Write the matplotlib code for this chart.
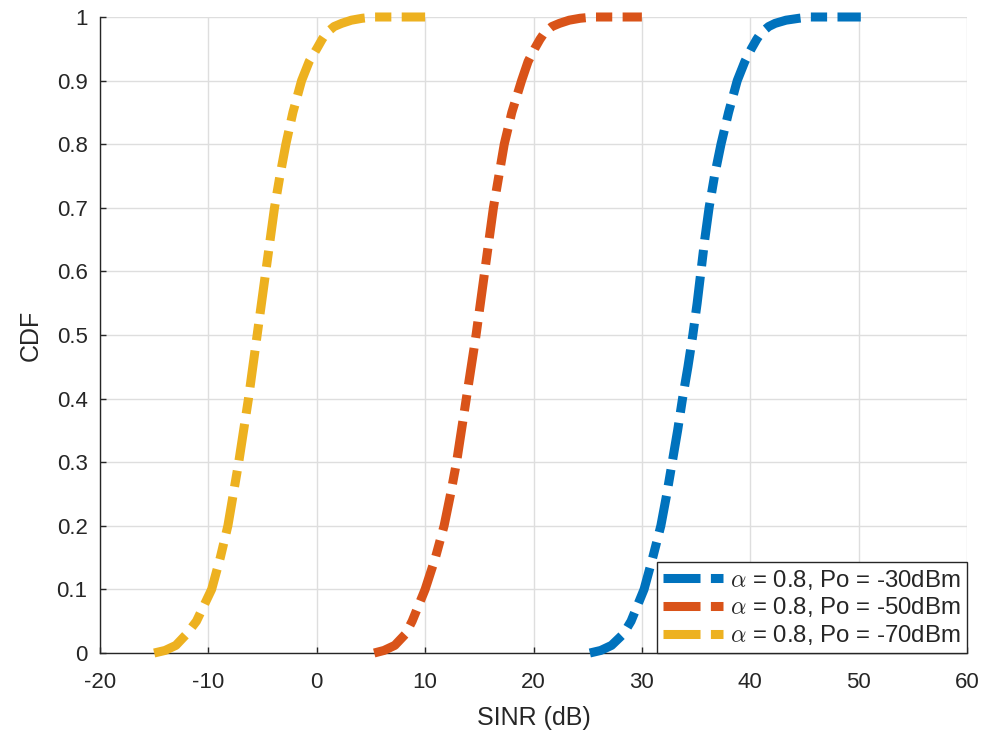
import matplotlib

matplotlib.use("Agg")

import matplotlib.pyplot as plt

# CDF levels (shared by the three curves)
CDF_LEVELS = [0.0, 0.004, 0.012, 0.03, 0.05, 0.075, 0.1, 0.15, 0.2, 0.25, 0.3,
              0.35, 0.4, 0.45, 0.5, 0.55, 0.6, 0.65, 0.7, 0.75, 0.8, 0.85,
              0.9, 0.93, 0.95, 0.965, 0.975, 0.985, 0.99, 0.995, 0.998, 1.0, 1.0]

# SINR (dB) where each curve reaches the levels above
SINR_30DBM = [25.2, 26.2, 27.2, 28.3, 29.0, 29.6, 30.2, 31.0, 31.75, 32.3, 32.8,
              33.3, 33.75, 34.25, 34.7, 35.1, 35.45, 35.8, 36.2, 36.7, 37.3, 38.0,
              38.8, 39.5, 40.1, 40.6, 41.0, 41.7, 42.3, 43.3, 44.5, 45.5, 50.2]
SINR_50DBM = [5.3, 6.2, 7.2, 8.2, 8.8, 9.4, 10.0, 10.95, 11.75, 12.35, 12.9,
              13.35, 13.8, 14.25, 14.7, 15.1, 15.5, 15.9, 16.3, 16.8, 17.3, 18.0,
              18.9, 19.5, 20.1, 20.6, 21.0, 21.7, 22.4, 23.3, 24.3, 25.5, 30.0]
SINR_70DBM = [-15.0, -14.0, -13.0, -12.0, -11.1, -10.4, -9.7, -8.9, -8.2, -7.7, -7.2,
              -6.75, -6.3, -5.9, -5.5, -5.1, -4.7, -4.3, -3.9, -3.4, -2.85, -2.2,
              -1.4, -0.7, 0.0, 0.5, 0.9, 1.6, 2.3, 3.2, 4.2, 5.3, 10.0]

LABELS = [
    r"$\alpha$ = 0.8, Po = -30dBm",
    r"$\alpha$ = 0.8, Po = -50dBm",
    r"$\alpha$ = 0.8, Po = -70dBm",
]
COLORS = ["#0072BD", "#D95319", "#EDB120"]

X_TICKS = [-20, -10, 0, 10, 20, 30, 40, 50, 60]
Y_TICKS = [0, 0.1, 0.2, 0.3, 0.4, 0.5, 0.6, 0.7, 0.8, 0.9, 1]
Y_TICK_LABELS = ["0", "0.1", "0.2", "0.3", "0.4", "0.5", "0.6", "0.7", "0.8", "0.9", "1"]

TEXT_COLOR = "#262626"

plt.rcParams.update(
    {
        "font.family": ["Liberation Sans", "DejaVu Sans"],
        "mathtext.fontset": "cm",
        "axes.unicode_minus": False,
    }
)

W_PX, H_PX = 986, 738
fig = plt.figure(figsize=(W_PX / 100, H_PX / 100), dpi=100, facecolor="white")

# axes box measured in pixels from the reference
left_px, right_px, top_px, bottom_px = 100, 967, 17, 653
ax = fig.add_axes(
    [
        left_px / W_PX,
        (H_PX - bottom_px) / H_PX,
        (right_px - left_px) / W_PX,
        (bottom_px - top_px) / H_PX,
    ]
)

# MATLAB '-.' with a thick line: long dash, gap, short dash, gap
dash_dot = (0, (4.1, 1.15, 1.8, 1.15))
for xs, label, color in zip([SINR_30DBM, SINR_50DBM, SINR_70DBM], LABELS, COLORS):
    ax.plot(xs, CDF_LEVELS, color=color, linewidth=6.5, linestyle=dash_dot,
            label=label, zorder=3, clip_on=False)

ax.set_xlim(-20, 60)
ax.set_ylim(0, 1)
ax.set_xticks(X_TICKS)
ax.set_yticks(Y_TICKS)
ax.set_yticklabels(Y_TICK_LABELS)

ax.grid(True, color="#dedede", linewidth=1.0)
ax.set_axisbelow(True)

for side in ["top", "right"]:
    ax.spines[side].set_visible(False)
for side in ["left", "bottom"]:
    ax.spines[side].set_color(TEXT_COLOR)
    ax.spines[side].set_linewidth(1.0)

ax.tick_params(axis="both", direction="in", length=4, width=1.0,
               colors=TEXT_COLOR, labelsize=16)
ax.tick_params(axis="x", pad=14)
ax.tick_params(axis="y", pad=9)

ax.set_xlabel("SINR (dB)", fontsize=18, color=TEXT_COLOR, labelpad=9)
ax.set_ylabel("CDF", fontsize=18, color=TEXT_COLOR, labelpad=10)

leg = ax.legend(
    loc="lower right",
    fontsize=17.3,
    handlelength=2.5,
    handletextpad=0.3,
    borderaxespad=0.0,
    borderpad=0.25,
    labelspacing=0.15,
    fancybox=False,
    framealpha=1.0,
    edgecolor=TEXT_COLOR,
)
leg.get_frame().set_linewidth(1.0)
for text in leg.get_texts():
    text.set_color(TEXT_COLOR)

fig.savefig("out.png", dpi=100, facecolor="white")
